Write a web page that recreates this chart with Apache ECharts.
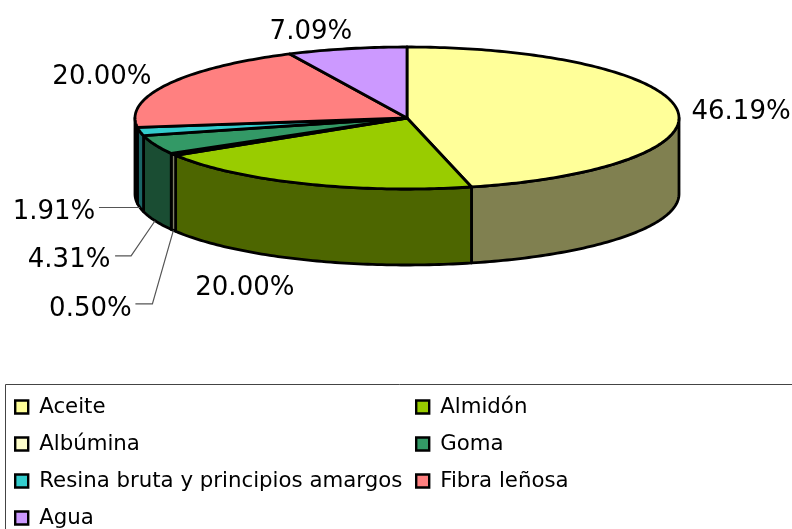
<!DOCTYPE html>
<html>
<head>
<meta charset="utf-8">
<style>html,body{margin:0;padding:0;background:#fff}#c{width:792px;height:529px}</style>
<script src="https://cdn.jsdelivr.net/npm/echarts@6/dist/echarts.min.js"></script>
</head>
<body>
<div id="c"></div>
<script>
const categories = ['Aceite','Almidón','Albúmina','Goma','Resina bruta y principios amargos','Fibra leñosa','Agua'];
const percentages = [46.19,20.00,0.50,4.31,1.91,20.00,7.09];
const topColors = ['#FFFF99','#99CC00','#FFFFCC','#339966','#33CCCC','#FF8080','#CC99FF'];
const wallColors = ['#808050','#4D6600','#808066','#1A4D33','#1A6666','#804040','#664D80'];
const legendLeft = ['Aceite','Albúmina','Resina bruta y principios amargos','Agua'];
const legendRight = ['Almidón','Goma','Fibra leñosa'];

// Pie layout
const pie = {cx:407, cy:118, rx:272, ry:71, depth:76};
// Label placement relative to the slice's rim anchor: [dx, dy]; leader bends are relative too
const labelOffset = [[64,3],[-59,29],[-83,79],[-86,39],[-86,5],[-66,-7],[-36,-17]];
const leaderBends = [null,null,[[-21,73.5],[-38,73.5]],[[-24,35],[-40,35]],[[-41,0]],null,null];

const FONT = '"DejaVu Sans", sans-serif';
const rad = d => d*Math.PI/180;
const rimPoint = (deg, drop) => [pie.cx + pie.rx*Math.sin(rad(deg)), pie.cy - pie.ry*Math.cos(rad(deg)) + drop];

function arc(from, to, drop){
  const pts = [], n = Math.max(2, Math.ceil(Math.abs(to-from)));
  for(let k=0;k<=n;k++) pts.push(rimPoint(from+(to-from)*k/n, drop));
  return pts;
}

function renderSlice(params, api){
  const i = params.seriesIndex;
  const start = api.value(1)*3.6, end = (api.value(1)+api.value(0))*3.6, mid = (start+end)/2;
  const children = [];
  const wa = Math.max(start,90), wb = Math.min(end,270);
  if(wb>wa){
    const top = arc(wa,wb,0), bottom = arc(wb,wa,pie.depth);
    children.push({type:'polygon',shape:{points:top.concat(bottom)},
      style:{fill:wallColors[i],stroke:'#000',lineWidth:2.8,lineJoin:'round'}});
  }
  const topShape = [[pie.cx,pie.cy]].concat(arc(start,end,0));
  children.push({type:'polygon',shape:{points:topShape},
    style:{fill:topColors[i],stroke:'#000',lineWidth:2.8,lineJoin:'round'}});
  const front = mid>90 && mid<270;
  const anchor = rimPoint(mid, front ? pie.depth : 0);
  const off = labelOffset[i];
  if(leaderBends[i]){
    const pts = [anchor].concat(leaderBends[i].map(b=>[anchor[0]+b[0],anchor[1]+b[1]]));
    children.push({type:'polyline',shape:{points:pts},style:{stroke:'#555',fill:null,lineWidth:1.2}});
  }
  children.push({type:'text',style:{text:api.value(0).toFixed(2)+'%',x:anchor[0]+off[0],y:anchor[1]+off[1],
    textAlign:'center',textVerticalAlign:'middle',fontSize:26,fontFamily:FONT,fill:'#000'}});
  return {type:'group',children};
}

let running = 0;
const series = categories.map((name,i)=>{
  const s = {type:'custom',name,coordinateSystem:'none',silent:true,animation:false,
    itemStyle:{color:topColors[i]},renderItem:renderSlice,data:[[percentages[i],running]]};
  running += percentages[i];
  return s;
});

const legendCommon = {orient:'vertical',top:395,height:160,padding:0,selectedMode:false,icon:'rect',itemWidth:13,itemHeight:13,itemGap:13,
  itemStyle:{borderColor:'#000',borderWidth:2.4},
  textStyle:{fontSize:21.3,fontFamily:FONT,color:'#000',padding:[0,0,0,6],lineHeight:24}};

const chart = echarts.init(document.getElementById('c'),null,{renderer:'canvas'});
chart.setOption({
  animation:false,
  backgroundColor:'#fff',
  graphic:[{type:'rect',z:-1,silent:true,shape:{x:5.5,y:384.5,width:800,height:200},style:{fill:'#fff',stroke:'#444',lineWidth:1}}],
  legend:[Object.assign({},legendCommon,{left:14,data:legendLeft}),Object.assign({},legendCommon,{left:415,data:legendRight})],
  series
});
</script>
</body>
</html>
